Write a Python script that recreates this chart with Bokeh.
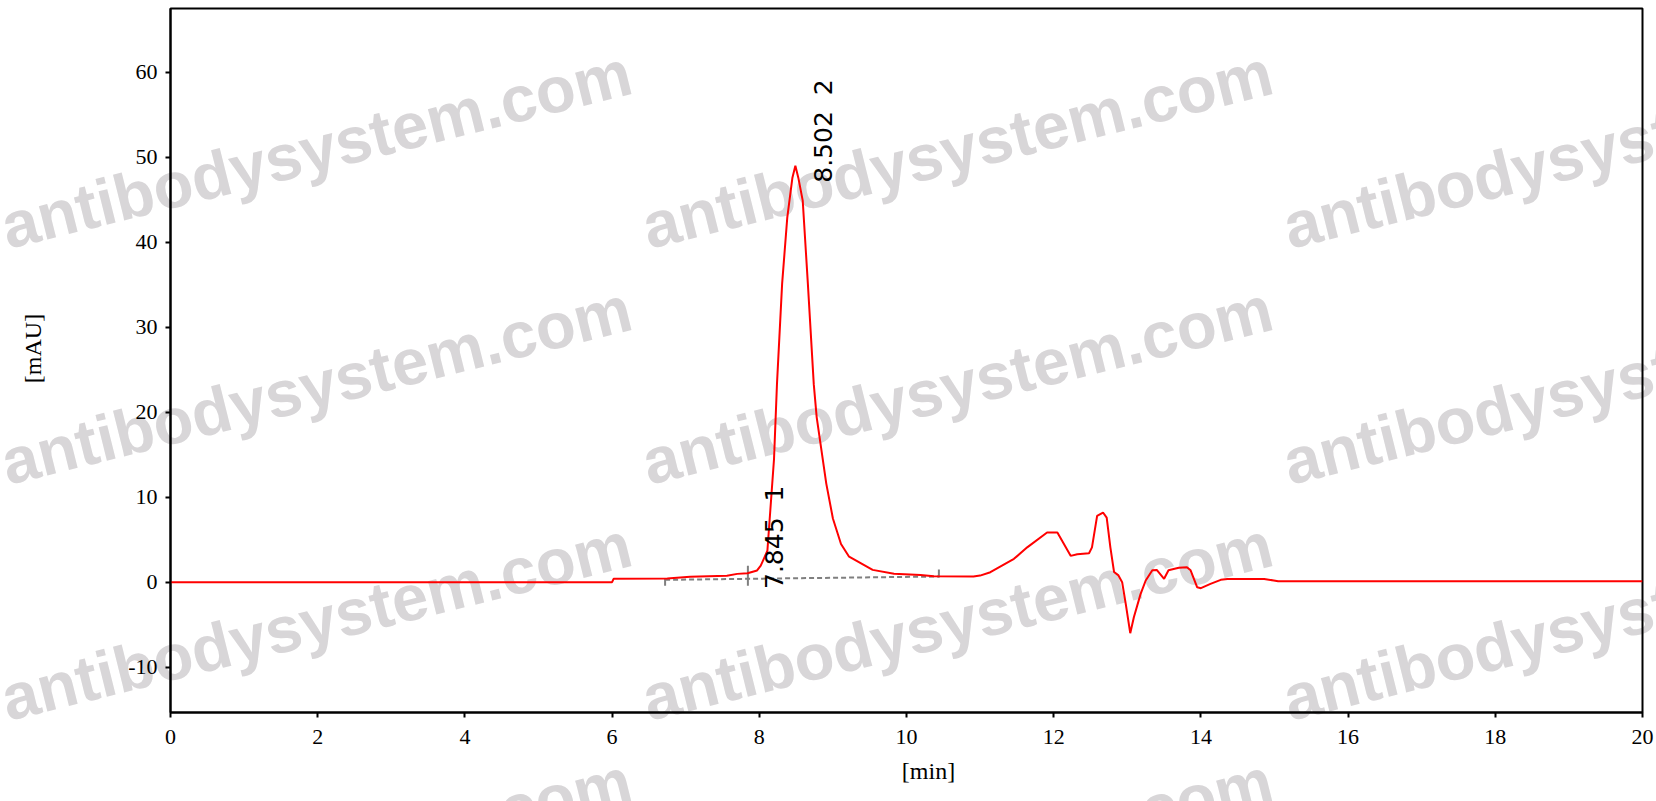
import math
from bokeh.plotting import figure
from bokeh.models import Range1d, FixedTicker, ColumnDataSource, GridBox
from bokeh.embed import file_html
from bokeh.resources import INLINE
from bokeh.core.properties import value

# ---------------- data ----------------
time_min = [0.0, 6.00, 6.02, 6.75, 7.06, 7.56, 7.70, 7.84, 7.97, 8.02, 8.11, 8.15,
            8.20, 8.24, 8.31, 8.38, 8.45, 8.49, 8.53, 8.59, 8.66, 8.74, 8.78, 8.91,
            9.00, 9.11, 9.22, 9.54, 9.83, 10.19, 10.37, 10.91, 11.00, 11.14, 11.46,
            11.64, 11.91, 12.05, 12.23, 12.32, 12.48, 12.52, 12.59, 12.67, 12.72,
            12.77, 12.82, 12.88, 12.93, 12.98, 13.04, 13.09, 13.18, 13.25, 13.34,
            13.40, 13.50, 13.56, 13.70, 13.81, 13.86, 13.95, 14.00, 14.13, 14.27,
            14.36, 14.86, 14.99, 15.05, 20.0]
signal_mau = [0.0, 0.0, 0.40, 0.45, 0.65, 0.75, 0.98, 1.06, 1.38, 1.95, 3.7, 8.5,
              14.5, 23.3, 35.1, 42.9, 47.6, 49.0, 47.6, 44.9, 35.1, 23.3, 19.4, 11.6,
              7.5, 4.5, 3.0, 1.45, 1.0, 0.85, 0.70, 0.67, 0.78, 1.18, 2.75,
              4.1, 5.85, 5.85, 3.1, 3.3, 3.4, 4.1, 7.8, 8.2, 7.6,
              4.1, 1.2, 0.8, 0.0, -2.6, -6.0, -4.1, -1.4, 0.2, 1.4,
              1.45, 0.4, 1.4, 1.7, 1.77, 1.4, -0.6, -0.7, -0.2, 0.28,
              0.39, 0.39, 0.2, 0.1, 0.1]

peak_times = [7.845, 8.502]
peak_heights = [1.2, 49.0]
peak_labels = ["7.845 \u00a01", "8.502 \u00a02"]

baseline_t = [6.72, 10.44]
baseline_y = [0.28, 0.67]
mark_t = [6.72, 7.845, 10.44]

x_ticks = [0, 2, 4, 6, 8, 10, 12, 14, 16, 18, 20]
y_ticks = [-10, 0, 10, 20, 30, 40, 50, 60]

x_lo, x_hi = 0, 20
y_lo, y_hi = -15.33, 67.5

x_title = "[min]"
y_title = "[mAU]"
watermark = "antibodysystem.com"

# ---------------- layout ----------------
W, H = 1656, 801
BORDER_L, BORDER_T, BORDER_R, BORDER_B = 170, 8, 14, 89
FRAME_W = W - BORDER_L - BORDER_R
FRAME_H = H - BORDER_T - BORDER_B

# background page layer: watermark + axis titles, in page pixel coordinates
bg = figure(width=W, height=H, x_range=Range1d(0, W), y_range=Range1d(0, H),
            output_backend="svg", toolbar_location=None,
            x_axis_location=None, y_axis_location=None, min_border=0,
            background_fill_color="white", border_fill_color="white")
bg.grid.visible = False
bg.outline_line_color = None
try:
    bg.frame_align = False
except AttributeError:
    pass

wm_cols = [2, 643, 1284]        # page x of text start
wm_rows = [227, 463, 699, 935]  # page y of baseline start
wm_x = [cx for ry in wm_rows for cx in wm_cols]
wm_y = [H - ry for ry in wm_rows for cx in wm_cols]
bg.text(x=wm_x, y=wm_y, text=[watermark] * len(wm_x), angle=math.radians(14),
        text_font=value("Liberation Sans"), text_font_style="bold",
        text_font_size="65px", text_color="#d8d6d8",
        text_align="left", text_baseline="alphabetic")

bg.text(x=[32], y=[H - 348], text=[y_title], angle=math.pi / 2,
        text_font=value("Liberation Serif"), text_font_size="24px",
        text_color="black", text_align="center", text_baseline="middle")
bg.text(x=[928], y=[H - 770], text=[x_title],
        text_font=value("Liberation Serif"), text_font_size="24px",
        text_color="black", text_align="center", text_baseline="middle")

# chart layer (transparent, on top)
p = figure(width=W, height=H,
           x_range=Range1d(x_lo, x_hi), y_range=Range1d(y_lo, y_hi),
           output_backend="svg", toolbar_location=None,
           min_border_left=BORDER_L, min_border_top=BORDER_T,
           min_border_right=BORDER_R, min_border_bottom=BORDER_B,
           background_fill_color=None, border_fill_color=None)
try:
    p.frame_align = False
except AttributeError:
    pass

p.outline_line_color = "black"
p.outline_line_width = 2
p.outline_line_alpha = 1.0
p.xgrid.visible = False
p.ygrid.visible = False

for ax in (p.xaxis[0], p.yaxis[0]):
    ax.axis_line_color = "black"
    ax.axis_line_width = 2
    ax.major_tick_line_color = "black"
    ax.major_tick_line_width = 2
    ax.major_tick_out = 5
    ax.major_tick_in = 0
    ax.minor_tick_line_color = None
    ax.major_label_text_font = "Liberation Serif"
    ax.major_label_text_font_size = "22px"
    ax.major_label_text_color = "black"

p.xaxis[0].ticker = FixedTicker(ticks=x_ticks)
p.yaxis[0].ticker = FixedTicker(ticks=y_ticks)
p.yaxis[0].major_label_overrides = {t: str(t) for t in y_ticks}
p.xaxis[0].major_label_standoff = 12
p.yaxis[0].major_label_standoff = 8

# baseline (dashed) and integration marks
p.line(baseline_t, baseline_y, line_color="#7f7f7f", line_width=2, line_dash="5 3")
k = (y_hi - y_lo) / FRAME_H  # data units per pixel
slope = (baseline_y[1] - baseline_y[0]) / (baseline_t[1] - baseline_t[0])
mark_y = [baseline_y[0] + slope * (t - baseline_t[0]) for t in mark_t]
up_px = [1, 13, 7]
down_px = [6, 7, 1]
p.segment(x0=mark_t, x1=mark_t,
          y0=[y - d * k for y, d in zip(mark_y, down_px)],
          y1=[y + u * k for y, u in zip(mark_y, up_px)],
          line_color="#7f7f7f", line_width=2)

# signal
p.line(time_min, signal_mau, line_color="#ff0000", line_width=2)

# peak labels
src = ColumnDataSource(dict(x=peak_times, y=peak_heights, t=peak_labels))
p.text(x="x", y="y", text="t", source=src, angle=math.pi / 2,
       x_offset=27, y_offset=17, text_font=value("DejaVu Sans"),
       text_font_size="25px", text_color="black",
       text_align="left", text_baseline="alphabetic")

page = GridBox(children=[(bg, 0, 0), (p, 0, 0)])
open("out.html", "w").write(file_html(page, INLINE))
